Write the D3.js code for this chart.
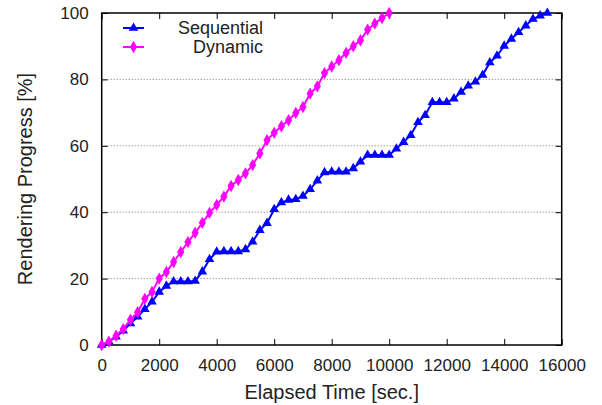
<!DOCTYPE html>
<html><head><meta charset="utf-8">
<script src="https://cdn.jsdelivr.net/npm/d3@7"></script>
<style>body{margin:0;background:#fff}svg{display:block}text{font-family:"Liberation Sans",Arial,sans-serif;fill:#222}</style>
</head><body><svg id="c" width="602" height="405"></svg>
<script>
const timeStep = 250;
const dynamicValues = [0,1.0,2.8,4.8,7.6,9.9,13.9,16.0,20.0,22.0,25.0,28.0,31.0,33.8,36.8,39.8,42.2,44.7,47.9,49.7,51.7,54.2,57.7,61.7,63.9,65.9,67.7,69.9,71.7,75.7,77.9,81.9,83.9,85.8,88.0,90.0,91.8,95.0,96.8,98.5,100];
const sequentialValues = [0,1.0,2.5,4.3,6.5,8.5,10.8,13.0,16.0,17.8,19.1,19.1,19.1,19.3,22.1,25.8,28.1,28.2,28.2,28.2,28.8,31.1,34.6,36.7,40.9,42.9,43.7,43.9,44.9,46.9,49.5,52.0,52.2,52.2,52.2,53.2,55.2,57.2,57.2,57.2,57.2,59.1,61.1,63.2,67.1,69.2,73.1,73.1,73.1,74.2,76.2,78.1,79.3,81.3,85.1,87.1,90.1,92.2,94.2,96.2,98.2,99.2,100];
const xTicks = [0,2000,4000,6000,8000,10000,12000,14000,16000];
const yTicks = [0,20,40,60,80,100];
const gridTicks = [20,40,60,80];
const seriesNames = ["Sequential","Dynamic"];

const svg = d3.select("#c");
const L=101.7, R=561.7, T=13, B=345;
const x = d3.scaleLinear().domain([0,16000]).range([L,R]);
const y = d3.scaleLinear().domain([0,100]).range([B,T]);

// grid
svg.append("g").selectAll("line").data(gridTicks).join("line")
  .attr("x1",L).attr("x2",R).attr("y1",d=>y(d)).attr("y2",d=>y(d))
  .attr("stroke","#777").attr("stroke-width",1).attr("stroke-dasharray","1,2");

// axes
const fs = "17px";
const fmt = d3.format("d");
const xb = svg.append("g").attr("transform",`translate(0,${B})`).call(d3.axisBottom(x).tickValues(xTicks).tickFormat(fmt).tickSizeInner(-6).tickSizeOuter(0).tickPadding(14));
const xt = svg.append("g").attr("transform",`translate(0,${T})`).call(d3.axisTop(x).tickValues(xTicks).tickSizeInner(-6).tickSizeOuter(0).tickFormat(""));
const yl = svg.append("g").attr("transform",`translate(${L},0)`).call(d3.axisLeft(y).tickValues(yTicks).tickFormat(fmt).tickSizeInner(-6).tickSizeOuter(0).tickPadding(13));
const yr = svg.append("g").attr("transform",`translate(${R},0)`).call(d3.axisRight(y).tickValues(yTicks).tickSizeInner(-6).tickSizeOuter(0).tickFormat(""));
[xb,xt,yl,yr].forEach(g=>{g.select(".domain").remove();g.selectAll("line").attr("stroke","#000");g.selectAll("text").style("font-size",fs).attr("fill","#222");});
xb.selectAll("text").attr("dy","0.71em");
svg.append("rect").attr("x",L).attr("y",T).attr("width",R-L).attr("height",B-T).attr("fill","none").attr("stroke","#000").attr("stroke-width",1.5);

const line = d3.line().x(d=>x(d[0])).y(d=>y(d[1]));
const seq = sequentialValues.map((v,i)=>[i*timeStep,v]);
const dyn = dynamicValues.map((v,i)=>[i*timeStep,v]);

const tri = d3.symbol().type(d3.symbolTriangle).size(40);
const dia = d3.symbol().type(d3.symbolDiamond).size(44);

function drawSeries(data,color,sym){
  svg.append("path").datum(data).attr("d",line).attr("fill","none").attr("stroke",color).attr("stroke-width",2);
  svg.append("g").selectAll("path").data(data).join("path")
    .attr("transform",d=>`translate(${x(d[0])},${y(d[1])})`).attr("d",sym).attr("fill",color);
}
drawSeries(seq,"#0000ff",tri);
drawSeries(dyn,"#ff00ff",dia);

// legend
const leg = [{n:seriesNames[0],c:"#0000ff",s:tri,y:28},{n:seriesNames[1],c:"#ff00ff",s:dia,y:47}];
leg.forEach(l=>{
  svg.append("line").attr("x1",123).attr("x2",144).attr("y1",l.y).attr("y2",l.y).attr("stroke",l.c).attr("stroke-width",2);
  svg.append("path").attr("transform",`translate(133.5,${l.y})`).attr("d",l.s).attr("fill",l.c);
  svg.append("text").attr("x",263).attr("y",l.y+6).attr("text-anchor","end").style("font-size","18px").text(l.n);
});

svg.append("text").attr("x",(L+R)/2).attr("y",399).attr("text-anchor","middle").style("font-size","20px").text("Elapsed Time [sec.]");
svg.append("text").attr("transform",`translate(32,${(T+B)/2}) rotate(-90)`).attr("text-anchor","middle").style("font-size","20px").text("Rendering Progress [%]");
</script></body></html>
